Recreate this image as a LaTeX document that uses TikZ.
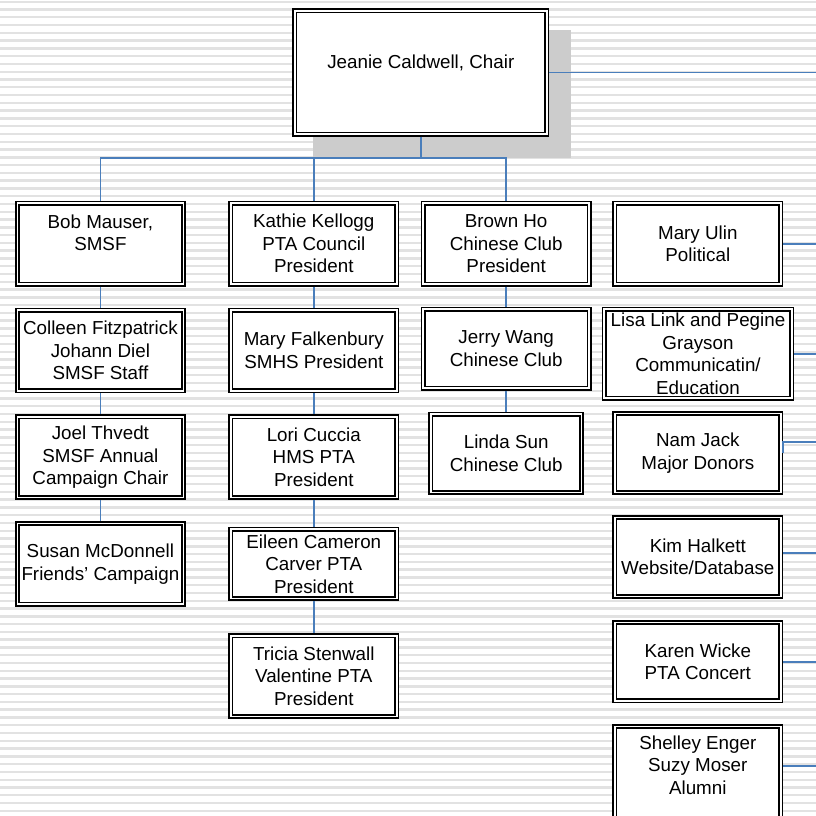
\documentclass[tikz,border=0pt]{standalone}
\usepackage{fontspec}
\setmainfont{Liberation Sans}
\usepackage{tikz}
\usetikzlibrary{
    calc,
    positioning
}
\definecolor{linkblue}{RGB}{74,126,187}
\definecolor{shadowgray}{RGB}{204,204,204}
\definecolor{stripegray}{RGB}{226,226,226}

\begin{document}
\begin{tikzpicture}[x=1pt, y=-1pt,
    member/.style={draw=black, line width=1.6pt, double=white, double distance=1.8pt,
        fill=white, inner sep=0pt, outer sep=2.5pt, align=center,
        minimum width=166pt, minimum height=80.7pt,
        font=\fontsize{18.8}{22.5}\selectfont},
    link/.style={draw=linkblue, line width=1.8pt},
    bgstripe/.style={draw=stripegray, line width=2.4pt}]
                        \useasboundingbox (0,0) rectangle (816,815);
                        % striped background
                        \foreach \k in {0,...,104}
                            \draw[bgstripe] (0,1.7+7.78*\k) -- (816,1.7+7.78*\k);
                        % shadow behind the chair
                        \fill[shadowgray] (313,30) rectangle (571,158);

                        \node[member, minimum width=252pt, minimum height=123.4pt] (chair) at (420.8,72.5) {Jeanie Caldwell, Chair\\ \mbox{}};

                        \node[member, minimum height=81pt] (bob) at (100.4,243.7) {Bob Mauser,\\SMSF\\ \mbox{}};
                        \node[member] (colleen) at (100.4,350.5) {Colleen Fitzpatrick\\Johann Diel\\SMSF Staff};
                        \node[member] (joel) at (100.4,457.2) {Joel Thvedt\\SMSF Annual\\Campaign Chair};
                        \node[member] (susan) at (100.4,563.9) {Susan McDonnell\\Friends' Campaign};

                        \node[member, minimum height=81pt] (kathie) at (313.8,243.7) {Kathie Kellogg\\PTA Council\\President};
                        \node[member] (maryf) at (313.8,350.5) {Mary Falkenbury\\SMHS President};
                        \node[member] (lori) at (313.8,457.2) {Lori Cuccia\\HMS PTA\\President};
                        \node[member, minimum height=69.3pt] (eileen) at (313.8,563.9) {Eileen Cameron\\Carver PTA\\President};
                        \node[member] (tricia) at (313.8,676.2) {Tricia Stenwall\\Valentine PTA\\President};

                        \node[member, minimum height=81pt] (brown) at (506.2,243.7) {Brown Ho\\Chinese Club\\President};
                        \node[member, minimum height=79pt] (jerry) at (506.2,348.7) {Jerry Wang\\Chinese Club};
                        \node[member, minimum width=150.7pt, minimum height=78.3pt] (linda) at (506.2,453.4) {Linda Sun\\Chinese Club};

                        \node[member, minimum height=81pt] (ulin) at (697.8,243.7) {Mary Ulin\\Political};
                        \node[member, minimum width=187.6pt, minimum height=89pt] (lisa) at (698,353.7) {Lisa Link and Pegine\\Grayson\\Communicatin/\\Education};
                        \node[member, minimum height=79pt] (nam) at (697.8,453) {Nam Jack\\Major Donors};
                        \node[member, minimum height=79pt] (kim) at (697.8,557) {Kim Halkett\\Website/Database};
                        \node[member, minimum height=78.3pt] (karen) at (697.8,661.7) {Karen Wicke\\PTA Concert};
                        \node[member, minimum height=99pt] (shelley) at (697.8,776) {Shelley Enger\\Suzy Moser\\Alumni\\ \mbox{}};

                        \coordinate (busline) at (0,158);
                        \coordinate (rail) at (830,0);
                        \coordinate (hub) at (chair.south |- busline);
                        \coordinate (namtap) at ([yshift=10.7pt]nam.east);
                        \coordinate (kimtap) at ([yshift=4.3pt]kim.east);
                        \coordinate (shelleytap) at ([yshift=10.3pt]shelley.east);

                        \draw[link] (chair.south) -- (hub) -| (bob.north);
                        \draw[link] (hub) -| (kathie.north);
                        \draw[link] (hub) -| (brown.north);

                        \draw[link]
                        (bob) edge (colleen)
                        (colleen) edge (joel)
                        (joel) edge (susan)
                        (kathie) edge (maryf)
                        (maryf) edge (lori)
                        (lori) edge (eileen)
                        (eileen) edge (tricia)
                        (brown) edge (jerry)
                        (jerry) edge (linda);

                        \draw[link] (chair.east) -- (chair.east -| rail);
                        \draw[link] (ulin) -- (ulin -| rail);
                        \draw[link] (lisa) -- (lisa -| rail);
                        \draw[link] (nam.east) -- (namtap) -- (namtap -| rail);
                        \draw[link] (kimtap) -- (kimtap -| rail);
                        \draw[link] (karen) -- (karen -| rail);
                        \draw[link] (shelleytap) -- (shelleytap -| rail);
                    \end{tikzpicture}
\end{document}
